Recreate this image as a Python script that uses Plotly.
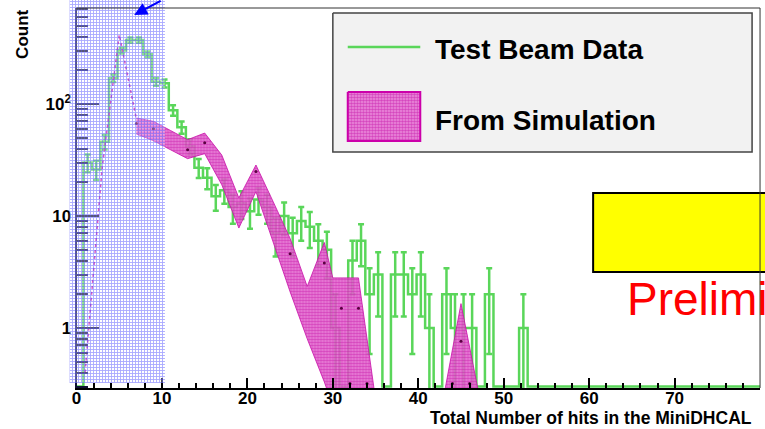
import math
import plotly.graph_objects as go

W, H = 765, 429

# ---------------- data ----------------
# Test beam data: counts in 1-unit bins; bin k spans [k-0.2, k+0.8]
bin_index = list(range(0, 80))
tb_counts = [0, 30, 26, 46, 170, 300, 372, 372, 278, 158,
             153, 88, 62, 42, 27, 22, 15, 17, 12, 13,
             11, 14, 12, 7, 10, 7, 9, 8, 6, 5,
             1, 0, 4, 6, 2, 3, 0, 3, 3, 2,
             3, 1, 0, 2, 1, 1, 1, 0, 2, 0,
             0, 0, 1, 0, 0, 0, 0, 0, 0, 0,
             0, 0, 0, 0, 0, 0, 0, 0, 0, 0,
             0, 0, 0, 0, 0, 0, 0, 0, 0, 0]

# Simulation: thin line at low hits, then error band
sim_line_x = [1, 3, 5, 7]
sim_line_y = [0.4, 27, 415, 74]
band_x  = [7, 9, 11, 13, 15, 17, 19, 21, 23, 25, 27, 29, 30, 33, 35, 37, 39, 41, 43, 45, 47, 49]
band_hi = [75, 70, 58, 48, 55, 35, 14.5, 28.5, 13.5, 6.3, 2.35, 5.8, 2.8, 2.8, 0.23, 0.1, 0.1, 0.1, 0.25, 1.65, 0.28, 0.1]
band_lo = [54, 47, 39, 32.5, 36, 19, 7.8, 16.5, 5.8, 2.1, 0.8, 0.33, 0.2, 0.1, 0.05, 0.05, 0.05, 0.05, 0.05, 0.05, 0.05, 0.05]
sim_pts_x = [7, 9, 13, 15, 21, 25, 29, 31, 33, 45, 32, 34, 44, 46]
sim_pts_y = [67, 60, 39, 45, 25, 4.6, 3.8, 1.5, 1.5, 0.76, 0.32, 0.32, 0.32, 0.32]

x_ticks = [0, 10, 20, 30, 40, 50, 60, 70, 80]
y_ticks = [1, 10, 100]
y_ticktext = ["1", "10", "10<sup>2</sup>"]

# ---------------- geometry (pixels) ----------------
AX_L, AX_R, AX_T, AX_B = 72, 760, 8, 388
YMIN_LOG, YMAX_LOG = -0.536, 2.857
FLOOR = 0.3          # where empty bins are drawn (bottom of frame)

def px(x):
    return x / W

def py(y):
    return 1 - y / H

GREEN = "#5ad65a"
MAGENTA = "#c810a8"
FONT = "Liberation Sans"

fig = go.Figure()

# ---- test beam histogram (step) ----
edges = [k - 0.2 for k in bin_index] + [80.0]
step_y = [c if c > 0 else FLOOR for c in tb_counts]
step_y = step_y + [step_y[-1]]
fig.add_trace(go.Scatter(x=edges, y=step_y, mode="lines", line_shape="hv",
                         line=dict(color=GREEN, width=2.5), showlegend=False,
                         xaxis="x", yaxis="y"))
ex, ey, eup, edn = [], [], [], []
for k, c in zip(bin_index, tb_counts):
    if c > 0:
        ex.append(k + 0.3)
        ey.append(c)
        eup.append(math.sqrt(c))
        edn.append(min(math.sqrt(c), c - 0.01))
fig.add_trace(go.Scatter(x=ex, y=ey, mode="markers", marker=dict(size=1, color=GREEN),
                         error_y=dict(type="data", array=eup, arrayminus=edn, symmetric=False,
                                      color=GREEN, thickness=2.5, width=3),
                         showlegend=False, xaxis="x", yaxis="y"))

# ---- simulation ----
fig.add_trace(go.Scatter(x=band_x + band_x[::-1], y=band_hi + band_lo[::-1],
                         mode="lines", fill="toself", line=dict(color=MAGENTA, width=0.8),
                         fillcolor="rgba(0,0,0,0)",
                         fillpattern=dict(shape=".", size=3, solidity=0.55,
                                          fgcolor="#c000a0", bgcolor="rgba(232,115,212,0.85)"),
                         showlegend=False, xaxis="x", yaxis="y"))
fig.add_trace(go.Scatter(x=sim_line_x, y=sim_line_y, mode="lines",
                         line=dict(color=MAGENTA, width=1.5, dash="dot"),
                         showlegend=False, xaxis="x", yaxis="y"))
fig.add_trace(go.Scatter(x=sim_pts_x, y=sim_pts_y, mode="markers",
                         marker=dict(size=3, color="#5a0040"),
                         showlegend=False, xaxis="x", yaxis="y", cliponaxis=False))

# ---- overlay (pixel space): blue hatched region + legend box ----
fig.add_trace(go.Scatter(x=[65, 161, 161, 65, 65], y=[0, 0, 383, 383, 0], mode="lines",
                         line=dict(width=0, color="rgba(0,0,0,0)"), fill="toself",
                         fillcolor="rgba(0,0,0,0)",
                         fillpattern=dict(shape="+", size=3, solidity=0.5,
                                          fgcolor="#5050ff", bgcolor="rgba(255,255,255,0.3)"),
                         showlegend=False, xaxis="x2", yaxis="y2", hoverinfo="skip"))
fig.add_trace(go.Scatter(x=[330, 752, 752, 330, 330], y=[13, 13, 152, 152, 13], mode="lines",
                         line=dict(width=1.5, color="#444444"), fill="toself",
                         fillcolor="#f2f2f2", showlegend=False, xaxis="x2", yaxis="y2",
                         hoverinfo="skip"))
fig.add_trace(go.Scatter(x=[345, 418, 418, 345, 345], y=[92, 92, 141, 141, 92], mode="lines",
                         line=dict(width=2, color="#cc00aa"), fill="toself",
                         fillcolor="rgba(0,0,0,0)",
                         fillpattern=dict(shape=".", size=3, solidity=0.55,
                                          fgcolor="#c000a0", bgcolor="#eb8fdc"),
                         showlegend=False, xaxis="x2", yaxis="y2", hoverinfo="skip"))

minor_y = [0.3, 0.4, 0.5, 0.6, 0.7, 0.8, 0.9, 2, 3, 4, 5, 6, 7, 8, 9,
           20, 30, 40, 50, 60, 70, 80, 90, 200, 300, 400, 500, 600, 700]

tickfont = dict(family=FONT, size=17, color="black", weight="bold")
fig.update_layout(
    width=W, height=H, margin=dict(l=0, r=0, t=0, b=0),
    paper_bgcolor="white", plot_bgcolor="rgba(0,0,0,0)",
    showlegend=False,
    xaxis=dict(domain=[px(AX_L), px(AX_R)], range=[0, 80], anchor="y",
               tickmode="array", tickvals=x_ticks, ticks="inside", ticklen=10,
               tickwidth=1.5, tickcolor="black", showline=True, linewidth=2,
               linecolor="black", showgrid=False, zeroline=False, tickfont=tickfont,
               ticklabelstandoff=-6,
               minor=dict(dtick=2, ticks="inside", ticklen=5, tickwidth=1.5,
                          tickcolor="black", showgrid=False),
               fixedrange=True),
    yaxis=dict(domain=[py(AX_B), py(AX_T)], type="log", range=[YMIN_LOG, YMAX_LOG],
               anchor="x", tickmode="array", tickvals=y_ticks, ticktext=y_ticktext,
               ticks="inside", ticklen=22, tickwidth=2, tickcolor="#111133",
               showline=True, linewidth=2, linecolor="#111133", showgrid=False,
               zeroline=False, tickfont=tickfont,
               minor=dict(tickmode="array", tickvals=minor_y, ticks="inside",
                          ticklen=11, tickwidth=2, tickcolor="#111133", showgrid=False),
               fixedrange=True),
    xaxis2=dict(domain=[0, 1], range=[0, W], anchor="y2", visible=False, fixedrange=True),
    yaxis2=dict(domain=[0, 1], range=[H, 0], anchor="x2", visible=False, fixedrange=True),
)

shapes = [
    # legend green line sample
    dict(type="line", xref="paper", yref="paper", x0=px(345), x1=px(418), y0=py(47), y1=py(47),
         line=dict(color=GREEN, width=2.5)),
    # yellow box
    dict(type="rect", xref="paper", yref="paper", x0=px(592), x1=px(775), y0=py(272), y1=py(193),
         fillcolor="#ffff00", line=dict(color="black", width=2)),
    # frame top / right
    dict(type="line", xref="paper", yref="paper", x0=px(AX_L), x1=px(AX_R), y0=py(AX_T), y1=py(AX_T),
         line=dict(color="#333333", width=1)),
    dict(type="line", xref="paper", yref="paper", x0=px(AX_R), x1=px(AX_R), y0=py(AX_T), y1=py(AX_B),
         line=dict(color="#333333", width=1)),
]
fig.update_layout(shapes=shapes)

ann = [
    dict(text="Test Beam Data", x=px(431), y=py(49), xanchor="left", yanchor="middle",
         font=dict(family=FONT, size=28, color="black", weight="bold")),
    dict(text="From Simulation", x=px(431), y=py(120), xanchor="left", yanchor="middle",
         font=dict(family=FONT, size=28, color="black", weight="bold")),
    dict(text="Count", x=px(18), y=py(34), xanchor="center", yanchor="middle", textangle=-90,
         font=dict(family=FONT, size=17, color="black", weight="bold")),
    dict(text="Total Number of hits in the MiniDHCAL", x=px(754), y=py(418), xanchor="right",
         yanchor="middle", font=dict(family=FONT, size=17.5, color="black", weight="bold")),
    dict(text="Preliminary", x=px(624), y=py(299), xanchor="left", yanchor="middle",
         font=dict(family=FONT, size=46, color="#ff0000")),
    dict(text="", x=px(130), y=py(15), showarrow=True, ax=28, ay=-16, axref="pixel", ayref="pixel",
         arrowhead=2, arrowsize=1.3, arrowwidth=2, arrowcolor="#0000ff", standoff=0),
]
for a in ann:
    a.setdefault("xref", "paper")
    a.setdefault("yref", "paper")
    a.setdefault("showarrow", False)
fig.update_layout(annotations=ann)

fig.write_html("out.html")
